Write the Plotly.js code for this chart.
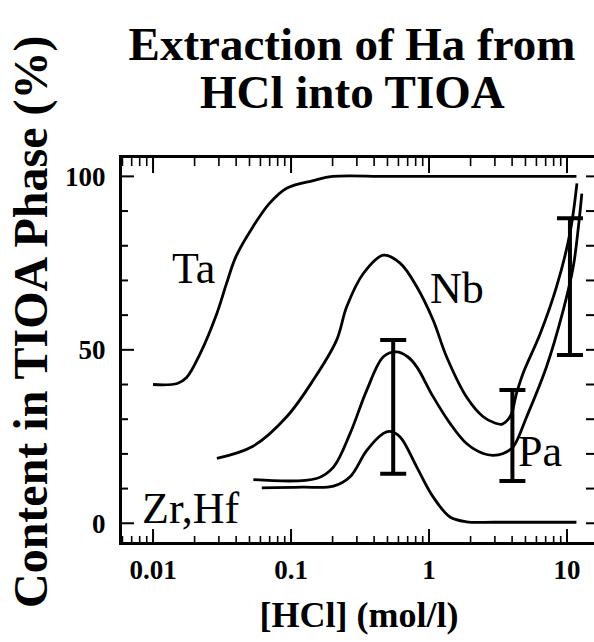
<!DOCTYPE html>
<html>
<head>
<meta charset="utf-8">
<script src="https://cdn.plot.ly/plotly-3.0.1.min.js"></script>
<style>html,body{margin:0;padding:0;overflow:hidden;background:#fff;}</style>
</head>
<body>
<div id="chart"></div>
<script>
// HCl concentration (mol/l) and content in TIOA phase (%)
const taX = [0.01, 0.015, 0.0175, 0.022, 0.029, 0.034, 0.040, 0.053, 0.070, 0.093, 0.145, 0.20, 0.5, 2, 6, 11.7];
const taY = [40, 40.3, 42, 49, 60.5, 69, 77, 85.5, 92.3, 96.6, 98.8, 100, 100, 100, 100, 100];

const nbX = [0.029, 0.053, 0.093, 0.145, 0.214, 0.253, 0.334, 0.467, 0.617, 0.815, 1.07, 1.34, 1.87, 2.47, 3.0, 3.4, 3.9, 4.3, 4.8, 6.4, 8.4, 10.5, 11.8];
const nbY = [18.7, 22.2, 30.7, 41.3, 52.8, 62.4, 72, 77.3, 75, 68.2, 58.6, 48, 36.4, 30.7, 28.9, 28.6, 31, 37.4, 43.2, 54.7, 68.2, 83.6, 98];

const paX = [0.0533, 0.153, 0.203, 0.268, 0.354, 0.467, 0.58, 0.70, 0.815, 1.07, 1.42, 1.87, 2.47, 2.9, 3.45, 4.07, 5.1, 7.1, 9.4, 11.1, 12.1, 12.8];
const paY = [12.6, 12.9, 16.2, 25.9, 38.4, 48, 49.4, 48, 45.1, 36.5, 28.8, 23, 20.1, 19.6, 20.1, 22, 30.7, 45.1, 61.5, 74, 85.5, 95];

const zrX = [0.0614, 0.12, 0.203, 0.268, 0.354, 0.467, 0.52, 0.617, 0.815, 1.07, 1.42, 1.87, 3, 11.7];
const zrY = [10.2, 10.4, 10.7, 13.4, 21, 25.9, 26.5, 24.9, 16.2, 7.6, 1.8, 0.4, 0.3, 0.3];

// error bars: position, lower and upper ends (%)
const ebX = [0.55, 4.02, 10.5];
const ebLo = [14.3, 12.2, 48.5];
const ebHi = [52.8, 38.4, 87.9];

const curveNames = ['Ta', 'Nb', 'Pa', 'Zr,Hf'];
const xTickVals = [0.01, 0.1, 1, 10];
const xTickText = ['0.01', '0.1', '1', '10'];
const yTickVals = [0, 50, 100];
const yTickText = ['0', '50', '100'];

// minor tick positions (2..9 in each decade, every 10 %)
const minorX = [];
for (let e = -3; e <= 1; e++) for (let d = 2; d <= 9; d++) minorX.push(d * Math.pow(10, e));
const minorY = [10, 20, 30, 40, 60, 70, 80, 90];

const serif = 'Liberation Serif, Times New Roman, serif';

const W = 600, H = 642;
const L = 122, R = 596, T = 158, B = 542;
const xr = [-2.225, 1.21], yr = [-5.4, 105.3];
const yPerPx = (yr[1] - yr[0]) / (B - T);
const lxPerPx = (xr[1] - xr[0]) / (R - L);

const series = [[taX, taY], [nbX, nbY], [paX, paY], [zrX, zrY]];
const traces = series.map((s, i) => ({
  x: s[0], y: s[1], type: 'scatter', mode: 'lines', name: curveNames[i],
  line: {color: 'black', width: 2.8, shape: 'spline', smoothing: 1}
}));

const ebMid = ebLo.map((lo, i) => (lo + ebHi[i]) / 2);
traces.push({
  x: ebX, y: ebMid, type: 'scatter', mode: 'markers', name: 'error',
  marker: {size: 1, color: 'rgba(0,0,0,0)'},
  error_y: {
    type: 'data', symmetric: false,
    array: ebHi.map((h, i) => h - ebMid[i]),
    arrayminus: ebMid.map((m, i) => m - ebLo[i]),
    color: 'black', thickness: 4, width: 13
  }
});

// frame tick marks, placed through the axis scales
function xTicks(vals, lenPx, atTop) {
  const xs = [], ys = [];
  const y0 = atTop ? yr[1] : yr[0];
  const y1 = atTop ? yr[1] - lenPx * yPerPx : yr[0] + lenPx * yPerPx;
  vals.forEach(v => { xs.push(v, v, null); ys.push(y0, y1, null); });
  return {x: xs, y: ys};
}
function yTicks(vals, lenPx, atRight) {
  const xs = [], ys = [];
  const x0 = atRight ? Math.pow(10, xr[1]) : Math.pow(10, xr[0]);
  const x1 = atRight ? Math.pow(10, xr[1] - lenPx * lxPerPx) : Math.pow(10, xr[0] + lenPx * lxPerPx);
  vals.forEach(v => { xs.push(x0, x1, null); ys.push(v, v, null); });
  return {x: xs, y: ys};
}
const tickSets = [
  [xTicks(xTickVals, 13, false), 2], [xTicks(minorX, 6, false), 1.6],
  [xTicks(xTickVals, 15, true), 2], [xTicks(minorX, 8, true), 1.6],
  [yTicks(yTickVals, 12, false), 2], [yTicks(minorY, 6, false), 2],
  [yTicks(yTickVals.concat(minorY), 10, true), 2]
];
tickSets.forEach(ts => traces.push({
  x: ts[0].x, y: ts[0].y, type: 'scatter', mode: 'lines', connectgaps: false,
  line: {color: 'black', width: ts[1]}, hoverinfo: 'skip', showlegend: false
}));

function lbl(text, px, py) {
  const lx = xr[0] + (px - L) * lxPerPx;
  const ly = yr[1] - (py - T) * yPerPx;
  return {text: text, x: lx, y: ly, xref: 'x', yref: 'y', showarrow: false,
          xanchor: 'center', yanchor: 'middle',
          font: {family: serif, size: 44, color: 'black'}};
}

const layout = {
  width: W, height: H,
  margin: {l: L, r: W - R, t: T, b: H - B, pad: 0},
  paper_bgcolor: 'white', plot_bgcolor: 'white',
  showlegend: false,
  title: {
    text: 'Extraction of Ha from',
    font: {family: serif, size: 47, color: 'black', weight: 'bold'},
    x: 352 / W, xref: 'container', xanchor: 'center',
    y: 1 - 44 / H, yref: 'container', yanchor: 'middle'
  },
  xaxis: {
    type: 'log', range: xr,
    showline: true, linewidth: 3, linecolor: 'black', mirror: true,
    ticks: '', tickvals: xTickVals, ticktext: xTickText,
    tickfont: {family: serif, size: 27, color: 'black', weight: 'bold'},
    ticklabelstandoff: 2,
    showgrid: false, zeroline: false,
    title: {text: '[HCl] (mol/l)', font: {family: serif, size: 36, color: 'black', weight: 'bold'}, standoff: 18}
  },
  yaxis: {
    range: yr,
    showline: true, linewidth: 3, linecolor: 'black', mirror: true,
    ticks: '', tickvals: yTickVals, ticktext: yTickText,
    tickfont: {family: serif, size: 27, color: 'black', weight: 'bold'},
    ticklabelstandoff: 8,
    showgrid: false, zeroline: false
  },
  annotations: [
    {text: 'HCl into TIOA', xref: 'paper', yref: 'paper',
     x: (352 - L) / (R - L), y: (B - 92) / (B - T), showarrow: false,
     xanchor: 'center', yanchor: 'middle',
     font: {family: serif, size: 47, color: 'black', weight: 'bold'}},
    {text: 'Content in TIOA Phase (%)', xref: 'paper', yref: 'paper',
     x: (31 - L) / (R - L), y: (B - 322) / (B - T), showarrow: false, textangle: -90,
     xanchor: 'center', yanchor: 'middle',
     font: {family: serif, size: 48, color: 'black', weight: 'bold'}},
    lbl('Ta', 193, 268),
    lbl('Nb', 457, 288),
    lbl('Pa', 540, 451),
    lbl('Zr,Hf', 191, 508)
  ]
};

Plotly.newPlot('chart', traces, layout, {displayModeBar: false, staticPlot: true});
</script>
</body>
</html>
